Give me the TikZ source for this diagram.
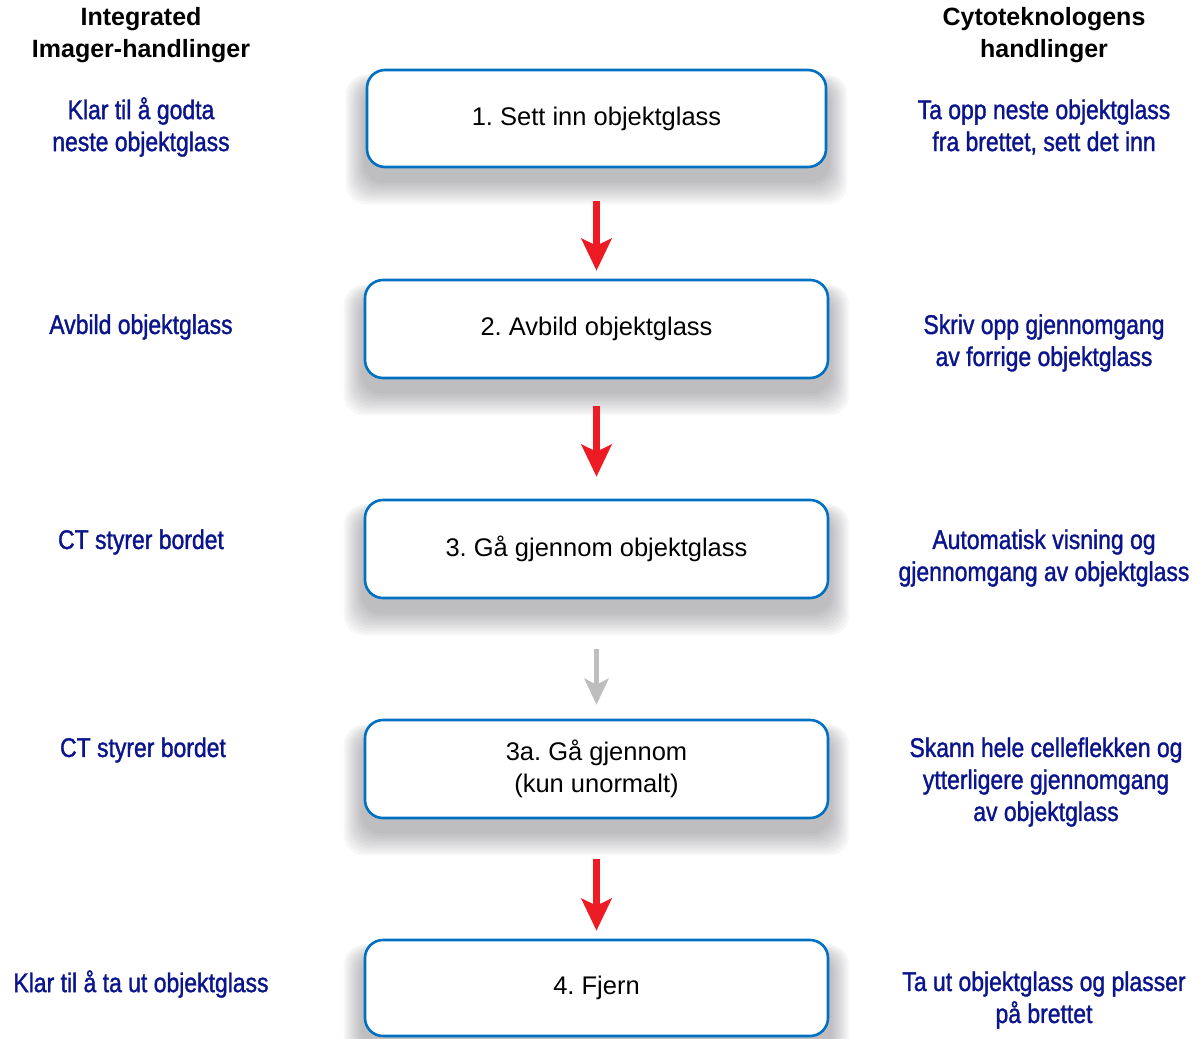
\documentclass[tikz,border=0pt]{standalone}
\usepackage{fontspec}
\setmainfont{Liberation Sans}
\newfontfamily\condfont[FakeStretch=0.85,FakeBold=1.3]{Liberation Sans}
\usetikzlibrary{arrows.meta,backgrounds}
\definecolor{navy}{RGB}{10,20,140}
\definecolor{boxblue}{RGB}{0,112,192}
\definecolor{arrred}{RGB}{237,28,36}
\definecolor{arrgray}{RGB}{190,190,190}
\definecolor{shadowc}{RGB}{70,70,80}
\tikzset{
  stepbox/.style={draw=boxblue, line width=2.6pt, fill=white, rounded corners=18pt,
    minimum width=463pt, minimum height=98pt, align=center,
    font=\fontsize{25.5}{32}\selectfont},
  shadowlayer/.style={fill=shadowc, fill opacity=0.04},
  head/.style={align=center, font=\bfseries\fontsize{25}{32}\selectfont},
  side/.style={align=center, text=navy, font=\condfont\fontsize{27}{32}\selectfont},
  redarrow/.style={draw=arrred, line width=7pt, -{Stealth[length=32pt,width=30pt,inset=7pt]}},
  grayarrow/.style={draw=arrgray, line width=5pt, -{Stealth[length=26pt,width=24pt,inset=6pt]}}
}
\begin{document}
\frenchspacing
\begin{tikzpicture}[x=1pt,y=-1pt]
\useasboundingbox (0,0) rectangle (1198,1038);
\node[head] (hl) at (141,35) {Integrated\\Imager-handlinger};
\node[head] (hr) at (1044,35) {Cytoteknologens\\handlinger};

\node[stepbox, minimum width=459pt, minimum height=97pt] (b1) at (596.5,118.5) {1. Sett inn objektglass};
\node[stepbox] (b2) at (596.5,329) {2. Avbild objektglass};
\node[stepbox] (b3) at (596.5,549) {3. Gå gjennom objektglass};
\node[stepbox] (b4) at (596.5,769) {3a. Gå gjennom\\(kun unormalt)};
\node[stepbox, minimum height=96pt] (b5) at (596.5,988) {4. Fjern};

\begin{scope}[on background layer]
\fill[white] (0,0) rectangle (1198,1038);
\foreach \b in {b1,b2,b3,b4,b5}{
  \foreach \i in {0,...,9}{
    \pgfmathsetmacro{\e}{20-2*\i}
    \pgfmathsetmacro{\t}{16-0.5*\e}
    \pgfmathsetmacro{\d}{12+1.2*\e}
    \fill[shadowlayer, rounded corners=20pt]
      ([shift={(-\e,\t)}]\b.north west) rectangle ([shift={(\e,\d)}]\b.south east);
  }
}
\end{scope}

\draw[redarrow, shorten <=33pt, shorten >=8pt] (b1.south) -- (b2.north);
\draw[redarrow, shorten <=27pt, shorten >=22pt] (b2.south) -- (b3.north);
\draw[grayarrow, shorten <=50pt, shorten >=14pt] (b3.south) -- (b4.north);
\draw[redarrow, shorten <=40pt, shorten >=8pt] (b4.south) -- (b5.north);

\node[side] (l1) at (141,127) {Klar til å godta\\neste objektglass};
\node[side] (l2) at (141,327) {Avbild objektglass};
\node[side] (l3) at (141,542) {CT styrer bordet};
\node[side] (l4) at (143,750) {CT styrer bordet};
\node[side] (l5) at (141,984) {Klar til å ta ut objektglass};

\node[side] (r1) at (1044,127) {Ta opp neste objektglass\\fra brettet, sett det inn};
\node[side] (r2) at (1044,343) {Skriv opp gjennomgang\\av forrige objektglass};
\node[side] (r3) at (1044,558) {Automatisk visning og\\gjennomgang av objektglass};
\node[side] (r4) at (1046,782) {Skann hele celleflekken og\\ytterligere gjennomgang\\av objektglass};
\node[side] (r5) at (1044,1000) {Ta ut objektglass og plasser\\på brettet};
\end{tikzpicture}
\end{document}
